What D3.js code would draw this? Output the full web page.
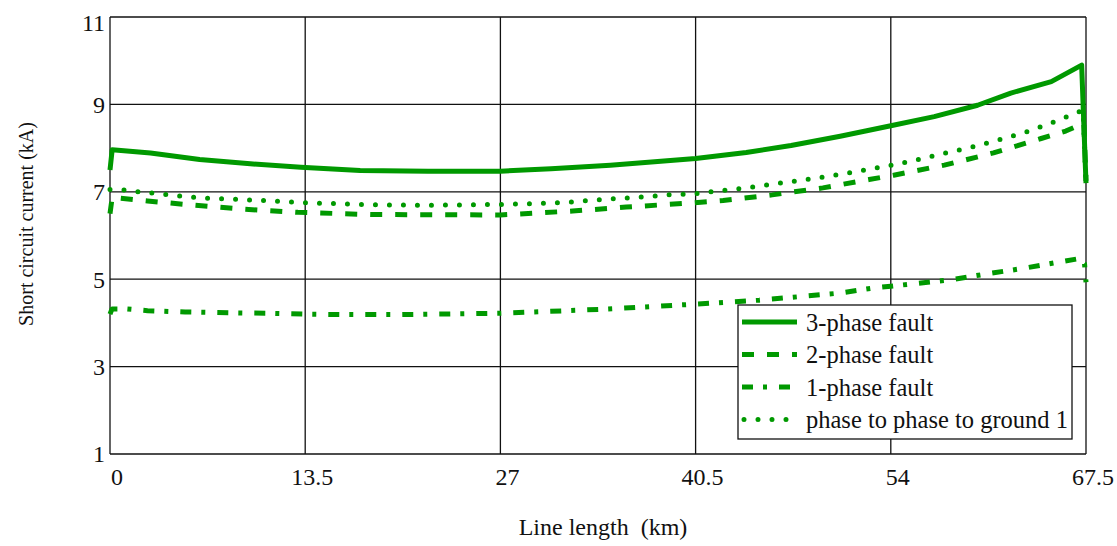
<!DOCTYPE html>
<html>
<head>
<meta charset="utf-8">
<script src="https://cdn.jsdelivr.net/npm/d3@7"></script>
<style>
  body { margin: 0; background: #fff; }
</style>
</head>
<body>
<div id="chart"></div>
<script>
// tick labels
const xTicks = [0, 13.5, 27, 40.5, 54, 67.5];
const yTicks = [1, 3, 5, 7, 9, 11];

// series values: [line length km, current kA]
const threePhase = [[0,7.5],[0.15,7.96],[2.8,7.89],[6.2,7.74],[9.7,7.64],[13.2,7.56],[17.3,7.49],[22,7.47],[27,7.47],
  [30.5,7.53],[34.6,7.61],[40.5,7.76],[44,7.9],[47.1,8.06],[50.5,8.27],[54,8.51],[57,8.72],[60,8.98],[62.3,9.26],
  [65.1,9.52],[67.2,9.9],[67.5,7.2]];
const twoPhase = [[0,6.5],[0.15,6.87],[2.6,6.79],[5.9,6.69],[9.3,6.6],[13,6.53],[18,6.48],[27,6.47],[32,6.56],
  [35.7,6.65],[40.4,6.75],[42.4,6.8],[45.8,6.93],[49.3,7.09],[52.5,7.28],[54.2,7.38],[57.7,7.61],[61.1,7.89],
  [64.4,8.22],[66.1,8.39],[67.35,8.57],[67.5,7.25]];
const onePhase = [[0,4.2],[0.14,4.32],[1.2,4.32],[2.6,4.28],[5.2,4.25],[8.7,4.23],[11.1,4.22],[13.5,4.2],[16.3,4.19],
  [20.1,4.19],[27,4.22],[33.9,4.31],[40.5,4.43],[44.9,4.52],[50.4,4.68],[52.8,4.8],[54,4.84],[58.2,4.99],[60.6,5.12],
  [63,5.24],[65.6,5.39],[67,5.47],[67.4,5.35],[67.5,4.93]];
const phasePhaseGround = [[0,7.05],[1,7.04],[2,7.0],[3,6.97],[4.9,6.9],[6.8,6.85],[8.6,6.83],[10.6,6.8],[13.5,6.75],
  [17.3,6.71],[21.5,6.69],[27,6.71],[31.2,6.75],[33.9,6.82],[36.7,6.88],[38.6,6.93],[40.5,6.96],[43.5,7.07],[46.4,7.2],
  [49.4,7.34],[52.1,7.49],[54.1,7.61],[55.9,7.74],[57.8,7.89],[59.7,8.03],[61.6,8.2],[63.6,8.39],[65.6,8.64],
  [67.3,8.87],[67.5,7.2]];

const seriesNames = ["3-phase fault", "2-phase fault", "1-phase fault", "phase to phase to ground 1"];

const width = 1117, height = 546;
const margin = {top: 17, right: 31, bottom: 92, left: 110};
const green = "#009900";

const series = [
  {name: seriesNames[0], data: threePhase, dash: null, cap: "butt"},
  {name: seriesNames[1], data: twoPhase, dash: "12,13", cap: "butt"},
  {name: seriesNames[2], data: onePhase, dash: "11,10,4,12", cap: "butt"},
  {name: seriesNames[3], data: phasePhaseGround, dash: "0,14", cap: "round"}
];

const svg = d3.select("#chart")
  .append("svg")
  .attr("width", width)
  .attr("height", height)
  .attr("font-family", "'Liberation Serif', 'DejaVu Serif', serif")
  .style("font-family", "'Liberation Serif', 'DejaVu Serif', serif");

const x = d3.scaleLinear().domain([0, 67.5]).range([margin.left, width - margin.right]);
const y = d3.scaleLinear().domain([1, 11]).range([height - margin.bottom, margin.top]);

// grid
const grid = svg.append("g").attr("stroke", "#111").attr("stroke-width", 1.3);
grid.selectAll(".gx").data(xTicks).enter().append("line")
  .attr("x1", d => x(d)).attr("x2", d => x(d))
  .attr("y1", y(1)).attr("y2", y(11));
grid.selectAll(".gy").data(yTicks).enter().append("line")
  .attr("x1", x(0)).attr("x2", x(67.5))
  .attr("y1", d => y(d)).attr("y2", d => y(d));

// tick labels
svg.append("g").selectAll("text").data(xTicks).enter().append("text")
  .attr("x", d => x(d) + 7)
  .attr("y", 485)
  .attr("text-anchor", "middle")
  .attr("font-size", 24)
  .attr("fill", "#111")
  .text(d => d);

svg.append("g").selectAll("text").data(yTicks).enter().append("text")
  .attr("x", 105)
  .attr("y", d => Math.max(y(d), 23))
  .attr("dy", "0.35em")
  .attr("text-anchor", "end")
  .attr("font-size", 24)
  .attr("fill", "#111")
  .text(d => d);

// axis titles
svg.append("text")
  .attr("x", 603).attr("y", 535)
  .attr("text-anchor", "middle")
  .attr("font-size", 24)
  .attr("fill", "#111")
  .attr("xml:space", "preserve")
  .text("Line length  (km)");

svg.append("text")
  .attr("transform", "translate(33,224) rotate(-90)")
  .attr("text-anchor", "middle")
  .attr("font-size", 20)
  .attr("fill", "#111")
  .text("Short circuit current (kA)");

// curves
const line = d3.line().x(d => x(d[0])).y(d => y(d[1]));

svg.append("g").selectAll("path").data(series).enter().append("path")
  .attr("d", d => line(d.data))
  .attr("fill", "none")
  .attr("stroke", green)
  .attr("stroke-width", 5)
  .attr("stroke-linecap", d => d.cap)
  .attr("stroke-linejoin", "round")
  .attr("stroke-dasharray", d => d.dash);

// legend
const legend = svg.append("g").attr("transform", "translate(738,305)");
legend.append("rect")
  .attr("width", 334).attr("height", 134)
  .attr("fill", "#fff")
  .attr("stroke", "#111").attr("stroke-width", 1.3);

const rows = legend.selectAll(".row").data(series).enter().append("g")
  .attr("transform", (d, i) => `translate(0,${17 + i * 32.5})`);
rows.append("line")
  .attr("x1", d => d.cap === "round" ? 6 : 4).attr("x2", 59)
  .attr("stroke", green)
  .attr("stroke-width", 5)
  .attr("stroke-linecap", d => d.cap)
  .attr("stroke-dasharray", d => d.dash);
rows.append("text")
  .attr("x", 68).attr("dy", "0.35em")
  .attr("font-size", 24.5)
  .attr("fill", "#111")
  .text(d => d.name);
</script>
</body>
</html>
